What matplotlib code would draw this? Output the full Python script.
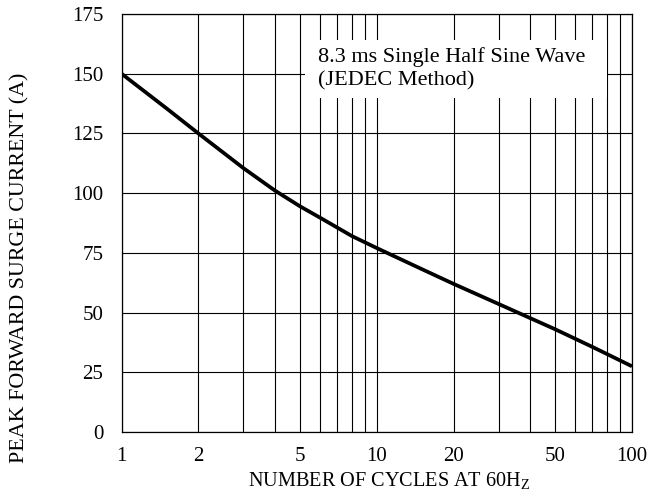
import numpy as np
import matplotlib.pyplot as plt
from matplotlib.patches import Rectangle
from matplotlib.ticker import FixedLocator, NullFormatter

# surge curve
cycles = [1, 1.5, 2, 3, 4, 5, 6, 8, 10, 15, 20, 30, 50, 70, 100]
current = [150, 135.5, 125, 110.5, 101, 94.5, 89.7, 82, 77, 68.2, 62, 53.6, 43, 35.6, 27.5]

x_ticks = [1, 2, 5, 10, 20, 50, 100]
x_grid = [1, 2, 3, 4, 5, 6, 7, 8, 9, 10, 20, 30, 40, 50, 60, 70, 80, 90, 100]
y_ticks = [0, 25, 50, 75, 100, 125, 150, 175]

plt.rcParams['font.family'] = ['Liberation Serif', 'DejaVu Serif']
plt.rcParams['font.size'] = 15

fig = plt.figure(figsize=(6.47, 4.92), dpi=100)
ax = fig.add_axes([0.1878, 0.122, 0.789, 0.8496])

ax.set_xscale('log')
ax.set_xlim(1, 100)
ax.set_ylim(0, 175)

for xv in x_grid:
    ax.axvline(xv, color='black', lw=0.8, zorder=1)
for yv in y_ticks:
    ax.axhline(yv, color='black', lw=0.8, zorder=1)

ax.plot(cycles, current, color='black', lw=2.7, zorder=3,
        solid_capstyle='butt', solid_joinstyle='round')

ax.xaxis.set_minor_locator(FixedLocator([]))
ax.xaxis.set_minor_formatter(NullFormatter())
ax.set_xticks(x_ticks)
ax.set_xticklabels([str(v) for v in x_ticks])
ax.set_yticks(y_ticks)
ax.tick_params(length=0)
ax.tick_params(axis='y', pad=13)
ax.tick_params(axis='x', pad=11)

for s in ax.spines.values():
    s.set_linewidth(0.9)

ax.set_xlabel('NUMBER OF CYCLES AT 60H$_\\mathregular{Z}$', fontsize=14.6)
ax.xaxis.set_label_coords(0.524, -0.092)
ax.set_ylabel('PEAK FORWARD SURGE CURRENT (A)', fontsize=15.8)
ax.yaxis.set_label_coords(-0.181, 0.3935)

# white panel behind the note
ax.add_patch(Rectangle((0.359, 0.799), 0.592, 0.139, transform=ax.transAxes,
                       facecolor='white', edgecolor='none', zorder=2))
ax.text(0.385, 0.897, '8.3 ms Single Half Sine Wave', transform=ax.transAxes,
        va='center', ha='left', fontsize=16, zorder=4)
ax.text(0.385, 0.840, '(JEDEC Method)', transform=ax.transAxes,
        va='center', ha='left', fontsize=16, zorder=4)

fig.savefig('out.png', dpi=100)
